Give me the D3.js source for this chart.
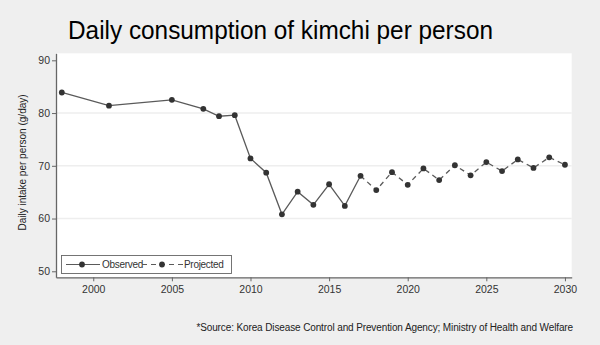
<!DOCTYPE html>
<html><head><meta charset="utf-8">
<script src="https://cdn.jsdelivr.net/npm/d3@7"></script>
<style>body{margin:0;background:#efefef;}svg{display:block;font-family:"Liberation Sans",Arial,sans-serif;}</style>
</head><body><svg id="c" width="600" height="345"></svg>
<script>
const years = [1998,2001,2005,2007,2008,2009,2010,2011,2012,2013,2014,2015,2016,2017,2018,2019,2020,2021,2022,2023,2024,2025,2026,2027,2028,2029,2030];
const values = [83.9,81.4,82.5,80.8,79.4,79.6,71.4,68.7,60.8,65.1,62.6,66.5,62.4,68.1,65.4,68.8,66.4,69.5,67.3,70.1,68.2,70.7,69.0,71.2,69.6,71.6,70.2];
const lastObservedYear = 2017;
const xTicks = [2000,2005,2010,2015,2020,2025,2030];
const yTicks = [50,60,70,80,90];
const gridTicks = [60,70,80];
const title = "Daily consumption of kimchi per person";
const yLabel = "Daily intake per person (g/day)";
const source = "*Source: Korea Disease Control and Prevention Agency; Ministry of Health and Welfare";
const legendLabels = ["Observed","Projected"];

const data = years.map((y,i)=>({year:y,value:values[i]}));
const obs = data.filter(d=>d.year<=lastObservedYear);
const proj = data.filter(d=>d.year>=lastObservedYear);

const svg = d3.select("#c");
const L=56,R=571.7,T=53.3,B=277.3;
const x = d3.scaleLinear().domain([1997.63,2030.43]).range([L,R]);
const y = d3.scaleLinear().domain([48.86,91.33]).range([B,T]);

svg.append("rect").attr("x",L).attr("y",T).attr("width",R-L).attr("height",B-T).attr("fill","#fff");
svg.append("g").selectAll("line").data(gridTicks).join("line")
  .attr("x1",L).attr("x2",R).attr("y1",d=>y(d)).attr("y2",d=>y(d))
  .attr("stroke","#eeeeee").attr("stroke-width",1.5);

const ax = svg.append("g").attr("transform",`translate(0,${B})`)
  .call(d3.axisBottom(x).tickValues(xTicks).tickFormat(d3.format("d")).tickSize(4).tickPadding(4).tickSizeOuter(0));
const ay = svg.append("g").attr("transform",`translate(${L},0)`)
  .call(d3.axisLeft(y).tickValues(yTicks).tickSize(4).tickPadding(2).tickSizeOuter(0));
[ax,ay].forEach(a=>{
  a.select(".domain").attr("stroke","#666").attr("stroke-width",1.3);
  a.selectAll(".tick line").attr("stroke","#666");
  a.selectAll(".tick text").attr("fill","#333").style("font-size","10.5px").style("font-family","Liberation Sans, Arial, sans-serif");
});

const line = d3.line().x(d=>x(d.year)).y(d=>y(d.value));
svg.append("path").datum(obs).attr("d",line).attr("fill","none").attr("stroke","#5a5a5a").attr("stroke-width",1.3);
svg.append("path").datum(proj).attr("d",line).attr("fill","none").attr("stroke","#5a5a5a").attr("stroke-width",1.3).attr("stroke-dasharray","5,4");
svg.append("g").selectAll("circle").data(data).join("circle")
  .attr("cx",d=>x(d.year)).attr("cy",d=>y(d.value)).attr("r",2.9).attr("fill","#333");

// legend
const lg = svg.append("g");
lg.append("rect").attr("x",61.5).attr("y",255.5).attr("width",170).attr("height",18).attr("fill","#fff").attr("stroke","#666").attr("stroke-width",0.9);
const ly = 264.5;
lg.append("line").attr("x1",66).attr("x2",100).attr("y1",ly).attr("y2",ly).attr("stroke","#5a5a5a").attr("stroke-width",1.2);
lg.append("circle").attr("cx",82).attr("cy",ly).attr("r",2.9).attr("fill","#333");
lg.append("text").attr("x",102).attr("y",ly+3.5).text(legendLabels[0]).attr("fill","#333").style("font-size","10px").style("letter-spacing","-0.3px");
lg.append("line").attr("x1",142).attr("x2",183).attr("y1",ly).attr("y2",ly).attr("stroke","#5a5a5a").attr("stroke-width",1.2).attr("stroke-dasharray","5,4");
lg.append("circle").attr("cx",162).attr("cy",ly).attr("r",2.9).attr("fill","#333");
lg.append("text").attr("x",184).attr("y",ly+3.5).text(legendLabels[1]).attr("fill","#333").style("font-size","10px").style("letter-spacing","-0.3px");

svg.append("text").attr("x",68).attr("y",39).text(title).attr("fill","#000").style("font-size","26px").attr("textLength",425).attr("lengthAdjust","spacingAndGlyphs");
svg.append("text").attr("transform",`translate(26,162.5) rotate(-90)`).attr("text-anchor","middle").text(yLabel).attr("fill","#222").style("font-size","10px");
svg.append("text").attr("x",573).attr("y",331).attr("text-anchor","end").text(source).attr("fill","#222").style("font-size","10px").style("letter-spacing","-0.12px");
</script></body></html>
